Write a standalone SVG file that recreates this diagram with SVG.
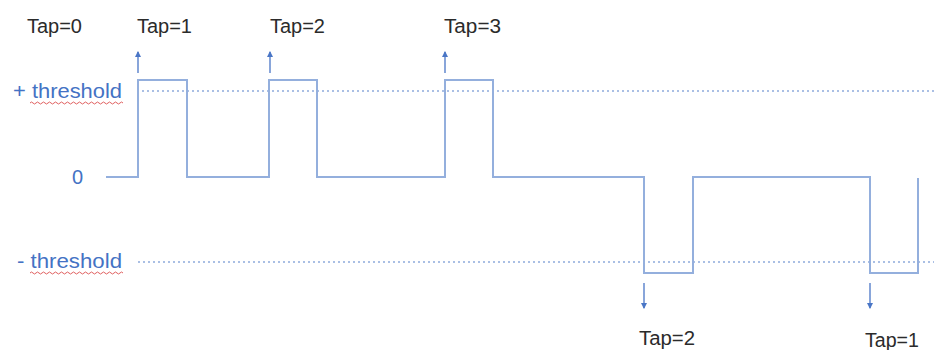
<svg xmlns="http://www.w3.org/2000/svg" width="934" height="350" viewBox="0 0 934 350">
<style>
.tap{font-family:"Liberation Sans",Arial,sans-serif;font-size:19.5px;fill:#2b2b2b}
.axis{font-family:"Liberation Sans",Arial,sans-serif;font-size:20px;fill:#4472c4}
.wave{fill:none;stroke:#94afdd;stroke-width:2}
.dot{fill:none;stroke:#8eaadb;stroke-width:1.5;stroke-dasharray:2 3}
.arr{fill:none;stroke:#4a76c6;stroke-width:1.3}
.squig{fill:none;stroke:#e06060;stroke-width:1}
</style>
<defs>
<marker id="ah" viewBox="0 0 6 6" refX="5" refY="3" markerWidth="5" markerHeight="5" orient="auto">
<path d="M0,0 L6,3 L0,6 z" fill="#4a76c6"/>
</marker>
</defs>
<rect width="934" height="350" fill="#fff"/>
<g id="thresholds">
<line class="dot" x1="137" y1="91" x2="934" y2="91"/>
<line class="dot" x1="138" y1="262" x2="934" y2="262"/>
</g>
<g id="waveform">
<path class="wave" d="M106,177 H138 V80 H187 V177 H269 V80 H317 V177 H445 V80 H493 V177 H644 V273 H693 V177 H870 V273 H918 V178"/>
</g>
<g id="connectors">
<line class="arr" x1="138" y1="73" x2="138" y2="52" marker-end="url(#ah)"/>
<line class="arr" x1="270" y1="73" x2="270" y2="52" marker-end="url(#ah)"/>
<line class="arr" x1="445" y1="73" x2="445" y2="52" marker-end="url(#ah)"/>
<line class="arr" x1="644" y1="283" x2="644" y2="308" marker-end="url(#ah)"/>
<line class="arr" x1="870" y1="283" x2="870" y2="308" marker-end="url(#ah)"/>
</g>
<g id="labels">
<text class="tap" x="27" y="33" textLength="55" lengthAdjust="spacingAndGlyphs">Tap=0</text>
<text class="tap" x="137" y="33" textLength="55" lengthAdjust="spacingAndGlyphs">Tap=1</text>
<text class="tap" x="270" y="33" textLength="55" lengthAdjust="spacingAndGlyphs">Tap=2</text>
<text class="tap" x="444" y="33" textLength="57" lengthAdjust="spacingAndGlyphs">Tap=3</text>
<text class="tap" x="639" y="345" textLength="56" lengthAdjust="spacingAndGlyphs">Tap=2</text>
<text class="tap" x="865" y="347" textLength="54" lengthAdjust="spacingAndGlyphs">Tap=1</text>
<text class="axis" x="13" y="98" textLength="109" lengthAdjust="spacingAndGlyphs">+ threshold</text>
<text class="axis" x="72" y="184">0</text>
<text class="axis" x="17" y="268" textLength="105" lengthAdjust="spacingAndGlyphs">- threshold</text>
</g>
<g id="underlines">
<path class="squig" d="M30,103 q1.5,-2 3,0 t3,0 t3,0 t3,0 t3,0 t3,0 t3,0 t3,0 t3,0 t3,0 t3,0 t3,0 t3,0 t3,0 t3,0 t3,0 t3,0 t3,0 t3,0 t3,0 t3,0 t3,0 t3,0 t3,0 t3,0 t3,0 t3,0 t3,0 t3,0 t3,0 t3,0"/>
<path class="squig" d="M30,273 q1.5,-2 3,0 t3,0 t3,0 t3,0 t3,0 t3,0 t3,0 t3,0 t3,0 t3,0 t3,0 t3,0 t3,0 t3,0 t3,0 t3,0 t3,0 t3,0 t3,0 t3,0 t3,0 t3,0 t3,0 t3,0 t3,0 t3,0 t3,0 t3,0 t3,0 t3,0 t3,0"/>
</g>
</svg>
